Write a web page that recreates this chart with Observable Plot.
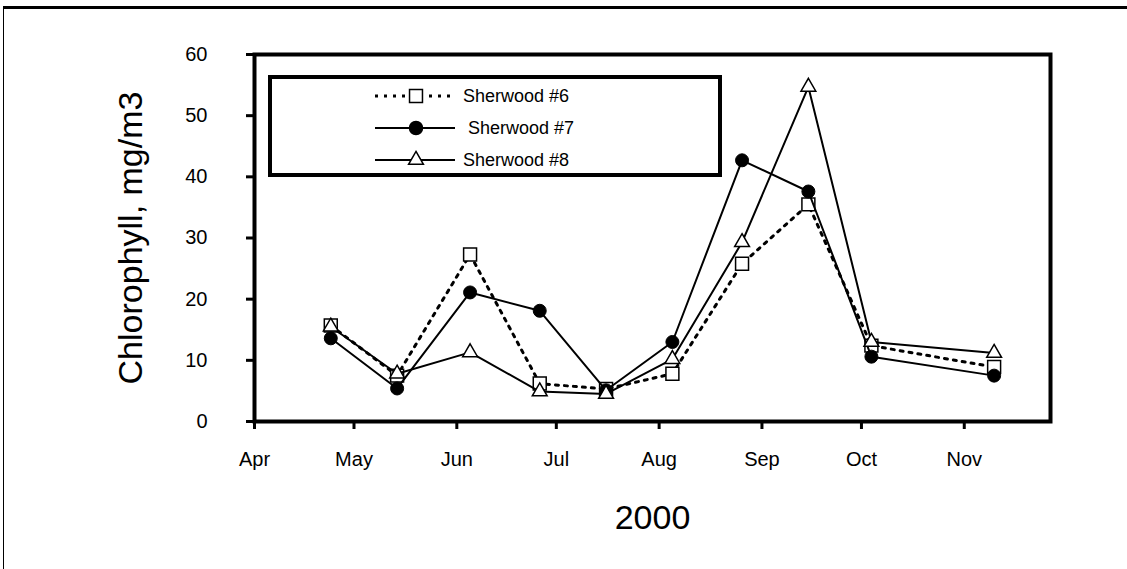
<!DOCTYPE html>
<html><head><meta charset="utf-8">
<script src="https://cdn.jsdelivr.net/npm/d3@7"></script>
<script src="https://cdn.jsdelivr.net/npm/@observablehq/plot@0.6"></script>
<style>
html,body{margin:0;padding:0;background:#fff;}
#wrap{position:relative;width:1127px;height:569px;overflow:hidden;font-family:"Liberation Sans",Arial,sans-serif;}
#border{position:absolute;left:3px;top:6px;width:1200px;height:700px;border-top:3px solid #000;border-left:1px solid #000;}
#chart{position:absolute;left:0;top:0;}
#legend{position:absolute;left:268px;top:75px;}
</style></head><body>
<div id="wrap"><div id="border"></div><div id="chart"></div><div id="legend"></div></div>
<script>
const sampleDates = ["2000-04-24","2000-05-14","2000-06-05","2000-06-26","2000-07-16","2000-08-05","2000-08-26","2000-09-15","2000-10-04","2000-11-10"];
const sherwood6 = [15.7, 7.5, 27.3, 6.2, 5.3, 7.8, 25.8, 35.5, 12.4, 8.9];
const sherwood7 = [13.6, 5.4, 21.1, 18.1, 5.1, 13.0, 42.7, 37.6, 10.6, 7.5];
const sherwood8 = [15.5, 7.8, 11.3, 4.9, 4.5, 10.2, 29.3, 54.7, 13.0, 11.2];
const seriesNames = ["Sherwood #6", " Sherwood #7", "Sherwood #8"];
const monthTicks = ["2000-04-01","2000-05-01","2000-06-01","2000-07-01","2000-08-01","2000-09-01","2000-10-01","2000-11-01"];
const monthLabels = ["Apr","May","Jun","Jul","Aug","Sep","Oct","Nov"];
const yTicks = [0,10,20,30,40,50,60];
const xDomain = ["2000-04-01","2000-11-27"];
const yLabel = "Chlorophyll, mg/m3";
const xLabel = "2000";

const parse = s => new Date(s + "T00:00:00Z");
const toRows = vals => sampleDates.map((d, i) => ({date: parse(d), value: vals[i]}));
const s6 = toRows(sherwood6), s7 = toRows(sherwood7), s8 = toRows(sherwood8);
const tickDates = monthTicks.map(parse);

const chart = Plot.plot({
  width: 1127, height: 569,
  marginLeft: 254, marginRight: 77, marginTop: 54, marginBottom: 148,
  style: {fontFamily: "'Liberation Sans', Arial, sans-serif", background: "transparent", color: "#000"},
  x: {type: "utc", domain: xDomain.map(parse)},
  y: {domain: [0, 60]},
  marks: [
    Plot.axisY({ticks: yTicks, tickSize: 8, tickPadding: 39, strokeWidth: 3, fontSize: 20, label: null}),
    Plot.axisY({ticks: [], tickSize: 0, label: yLabel, labelAnchor: "center", labelArrow: "none", labelOffset: 137, fontSize: 34}),
    Plot.axisX({ticks: tickDates, tickSize: 8, tickPadding: 22, strokeWidth: 3, fontSize: 20,
      tickFormat: d => monthLabels[tickDates.findIndex(t => +t === +d)], label: null}),
    Plot.axisX({ticks: [], tickSize: 0, label: xLabel, labelAnchor: "center", labelArrow: "none", labelOffset: 107, fontSize: 34}),
    Plot.line(s6, {x: "date", y: "value", stroke: "#000", strokeWidth: 3, strokeDasharray: "3,6"}),
    Plot.dot(s6, {x: "date", y: "value", symbol: "square", r: 7.3, fill: "#fff", stroke: "#000", strokeWidth: 1.5}),
    Plot.line(s7, {x: "date", y: "value", stroke: "#000", strokeWidth: 2}),
    Plot.dot(s7, {x: "date", y: "value", symbol: "circle", r: 6.5, fill: "#000", stroke: "#000", strokeWidth: 1}),
    Plot.line(s8, {x: "date", y: "value", stroke: "#000", strokeWidth: 2}),
    Plot.dot(s8, {x: "date", y: "value", symbol: "triangle", r: 5.5, fill: "#fff", stroke: "#000", strokeWidth: 1.5}),
    Plot.frame({stroke: "#000", strokeWidth: 4})
  ]
});
document.getElementById("chart").appendChild(chart);

// Legend (inside plot area, upper-left), drawn as an SVG overlay
const lw = 454, lh = 102;
const lg = d3.select("#legend").append("svg").attr("width", lw).attr("height", lh);
lg.append("rect").attr("x", 2).attr("y", 2).attr("width", lw - 4).attr("height", lh - 4)
  .attr("fill", "#fff").attr("stroke", "#000").attr("stroke-width", 4);
const styles = [
  {dash: "3,6", w: 3, sym: d3.symbolSquare, size: Math.PI * 7.3 * 7.3, fill: "#fff"},
  {dash: null, w: 2, sym: d3.symbolCircle, size: Math.PI * 6.5 * 6.5, fill: "#000"},
  {dash: null, w: 2, sym: d3.symbolTriangle, size: Math.PI * 5.5 * 5.5, fill: "#fff"}
];
const rowY = [21, 53, 85];
seriesNames.forEach((name, i) => {
  const st = styles[i], y = rowY[i];
  lg.append("line").attr("x1", 107).attr("x2", 187).attr("y1", y).attr("y2", y)
    .attr("stroke", "#000").attr("stroke-width", st.w).attr("stroke-dasharray", st.dash);
  lg.append("path").attr("d", d3.symbol(st.sym, st.size)()).attr("transform", `translate(148,${y})`)
    .attr("fill", st.fill).attr("stroke", "#000").attr("stroke-width", 1.5);
  lg.append("text").attr("x", 195).attr("y", y).attr("dy", "0.35em")
    .attr("font-family", "'Liberation Sans', Arial, sans-serif").attr("font-size", 18)
    .attr("xml:space", "preserve").style("white-space", "pre").text(name);
});
</script>
</body></html>
